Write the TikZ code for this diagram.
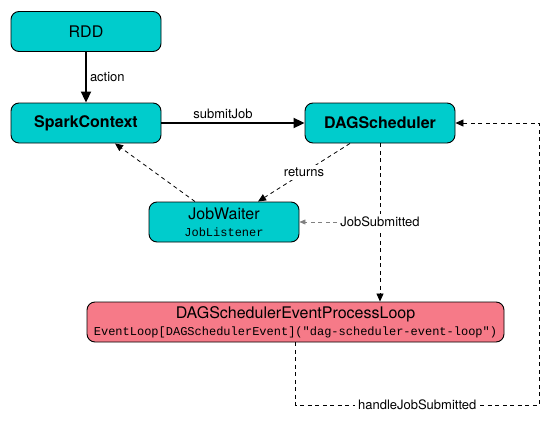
\documentclass[tikz,border=0pt]{standalone}
\usepackage{fontspec}
\setmainfont{TeX Gyre Heros}
\setmonofont{Liberation Mono}
\usetikzlibrary{arrows.meta}
\definecolor{boxcyan}{RGB}{0,204,204}
\definecolor{boxpink}{RGB}{246,122,136}
\begin{document}
\begin{tikzpicture}[x=1pt,y=-1pt,
 box/.style={draw,line width=0.9pt,rounded corners=8pt,fill=boxcyan,minimum width=150pt,minimum height=40pt,inner sep=2pt,align=center,font=\fontsize{16}{18}\selectfont},
 lbl/.style={font=\fontsize{13}{15}\selectfont,inner sep=3pt},
 call/.style={line width=2pt,-{Triangle[length=11pt,width=10pt]}},
 msg/.style={dash pattern=on 4pt off 3.5pt,line width=0.8pt,-{Triangle[length=8pt,width=7pt]}}]
\useasboundingbox (0,0) rectangle (550,426);
\node[box] (rdd) at (86,31.5) {RDD};
\node[box,font=\fontsize{16}{18}\selectfont\bfseries] (sc) at (86,123) {SparkContext};
\node[box,font=\fontsize{16}{18}\selectfont\bfseries] (dag) at (380,123) {DAGScheduler};
\node[box] (jw) at (224,222) {JobWaiter\\[-1pt]{\ttfamily\fontsize{12}{13}\selectfont JobListener}};
\node[box,fill=boxpink,minimum width=417pt] (loop) at (295.5,322) {DAGSchedulerEventProcessLoop\\[-1pt]{\ttfamily\fontsize{12}{13}\selectfont EventLoop[DAGSchedulerEvent]("dag-scheduler-event-loop")}};
\coordinate (turn) at (539,405);
\draw[call] (rdd) -- node[lbl,right] {action} (sc);
\draw[call] (sc) -- node[lbl,above,pos=0.43] {submitJob} (dag);
\draw[msg] ([xshift=-29pt]jw.north) -- ([xshift=29pt]sc.south);
\draw[msg] ([xshift=-30pt]dag.south) -- node[lbl,fill=white] {returns} ([xshift=34pt]jw.north);
\draw[msg] (dag.south) -- (dag.south |- loop.north);
\node[lbl,fill=white] (js) at (dag.south |- jw) {JobSubmitted};
\draw[msg,gray,line width=0.6pt,-{Triangle[length=6pt,width=5pt]}] (js) -- (jw);
\draw[msg] (loop.south) |- node[lbl,pos=0.75,fill=white] {handleJobSubmitted} (turn) |- (dag.east);
\end{tikzpicture}
\end{document}
